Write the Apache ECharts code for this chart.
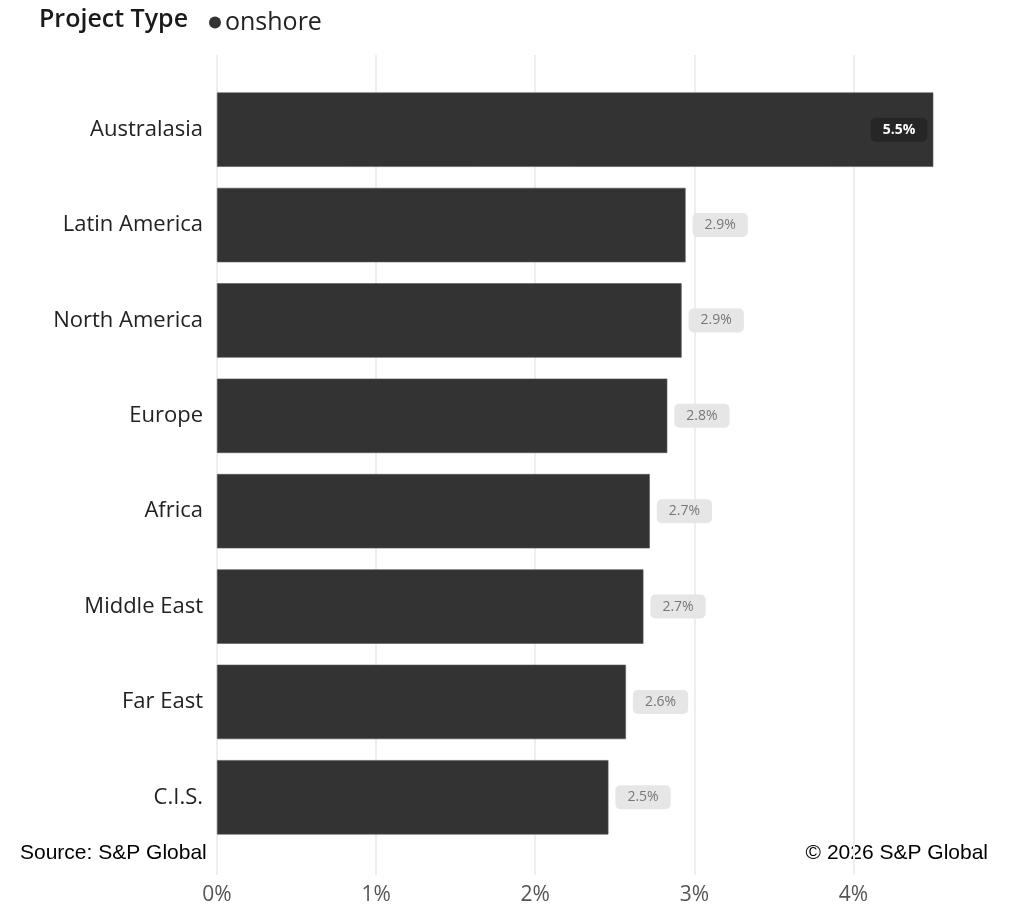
<!DOCTYPE html>
<html>
<head>
<meta charset="utf-8">
<script src="https://cdn.jsdelivr.net/npm/echarts@6/dist/echarts.min.js"></script>
<style>
  html, body { margin: 0; padding: 0; background: #fff; }
  #chart { width: 1012px; height: 906px; }
</style>
</head>
<body>
<div id="chart"></div>
<script>
// Regions, top to bottom
const regions = ['Australasia', 'Latin America', 'North America', 'Europe', 'Africa', 'Middle East', 'Far East', 'C.I.S.'];
// Share per region, in percent
const onshore = [5.5, 2.945, 2.92, 2.83, 2.72, 2.68, 2.57, 2.46];
// Value axis range (percent)
const axisMin = 0;
const axisMax = 4.5;
const axisStep = 1;

const uiFont = "'Segoe UI', 'Open Sans', 'Noto Sans', sans-serif";
const plotLeft = 217;
const plotWidth = 716;

const chart = echarts.init(document.getElementById('chart'), null, { renderer: 'canvas' });

chart.setOption({
  animation: false,
  backgroundColor: '#ffffff',
  title: {
    text: 'Project Type',
    left: 34,
    top: 2,
    textStyle: { fontFamily: uiFont, fontSize: 25, fontWeight: 600, color: '#1a1a1a' }
  },
  legend: {
    data: ['onshore'],
    left: 204,
    top: 5,
    icon: 'circle',
    itemWidth: 12,
    itemHeight: 12,
    itemGap: 4,
    itemStyle: { borderWidth: 0, color: '#333333' },
    textStyle: { fontFamily: uiFont, fontSize: 25, color: '#222', padding: [0, 0, 0, -1] }
  },
  graphic: [
    {
      type: 'text', left: 20, top: 843,
      style: { text: 'Source: S&P Global', font: "21px 'Liberation Sans', Arial, sans-serif", fill: '#000' }
    },
    {
      type: 'text', right: 24, top: 843,
      style: { text: '\u00a9 2026 S&P Global', font: "21px 'Liberation Sans', Arial, sans-serif", fill: '#000' }
    }
  ],
  grid: [
    { left: plotLeft, width: plotWidth, top: 82, height: 763, containLabel: false },
    { left: plotLeft, width: plotWidth, top: 55, height: 821, containLabel: false }
  ],
  xAxis: [
    {
      gridIndex: 0, type: 'value', min: axisMin, max: axisMax, interval: axisStep,
      show: false
    },
    {
      gridIndex: 1, type: 'value', min: axisMin, max: axisMax, interval: axisStep,
      position: 'bottom',
      axisLine: { show: false },
      axisTick: { show: false },
      splitLine: { show: true, showMaxLine: false, lineStyle: { color: '#eeeeee', width: 2 } },
      axisLabel: {
        margin: 10,
        fontFamily: uiFont, fontSize: 21, color: '#555',
        formatter: v => v + '%',
        showMaxLabel: false
      }
    }
  ],
  yAxis: [
    {
      gridIndex: 0, type: 'category', data: regions, inverse: true,
      axisLine: { show: false },
      axisTick: { show: false },
      axisLabel: { margin: 14, fontFamily: uiFont, fontSize: 22, color: '#222' }
    },
    {
      gridIndex: 1, type: 'value', show: false
    }
  ],
  series: [
    {
      name: 'onshore',
      type: 'bar',
      xAxisIndex: 0,
      yAxisIndex: 0,
      data: onshore.map((v, i) => {
        const item = { value: v };
        if (i === 0) {
          item.label = {
            position: 'insideRight',
            distance: 6,
            color: '#ffffff',
            fontWeight: 'bold',
            backgroundColor: '#262626'
          };
        }
        return item;
      }),
      barCategoryGap: '22%',
      clip: true,
      itemStyle: { color: '#333333', borderColor: '#555555', borderWidth: 0.6 },
      label: {
        show: true,
        position: 'right',
        distance: 7,
        formatter: p => p.value.toFixed(1) + '%',
        fontFamily: uiFont,
        fontSize: 14,
        color: '#777777',
        backgroundColor: '#e6e6e6',
        borderRadius: 5,
        padding: [5, 12, 5, 12]
      }
    }
  ]
});
</script>
</body>
</html>
